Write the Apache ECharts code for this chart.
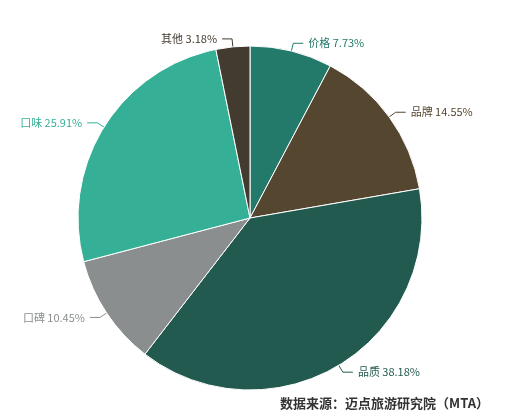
<!DOCTYPE html>
<html>
<head>
<meta charset="UTF-8">
<script src="https://cdn.jsdelivr.net/npm/echarts@6/dist/echarts.min.js"></script>
<style>html,body{margin:0;padding:0;background:#fff}#main{width:507px;height:418px}</style>
</head>
<body>
<div id="main"></div>
<script>
var names = ['价格', '品牌', '品质', '口碑', '口味', '其他'];
var values = [7.73, 14.55, 38.18, 10.45, 25.91, 3.18];
var colors = ['#237a6a', '#554630', '#235a50', '#8a8e8e', '#35b096', '#433a30'];

var myChart = echarts.init(document.getElementById('main'));
var data = names.map(function (n, i) {
    return {name: n, value: values[i], label: {color: colors[i]}, labelLine: {lineStyle: {color: colors[i]}}};
});
option = {
    color: colors,
    graphic: [{
        type: 'text', right: 18, bottom: 8,
        style: {text: '数据来源：迈点旅游研究院（MTA）', fill: '#333', font: 'bold 13px "Noto Sans CJK SC"'}
    }],
    series: [{
        type: 'pie',
        center: [250, 218],
        radius: [0, 172],
        startAngle: 90,
        clockwise: true,
        data: data,
        label: {formatter: '{b} {c}%', fontSize: 11, fontFamily: 'Noto Sans CJK SC'},
        labelLine: {length: 8, length2: 10},
        itemStyle: {borderColor: '#fff', borderWidth: 1}
    }]
};
myChart.setOption(option, true);
</script>
</body>
</html>
